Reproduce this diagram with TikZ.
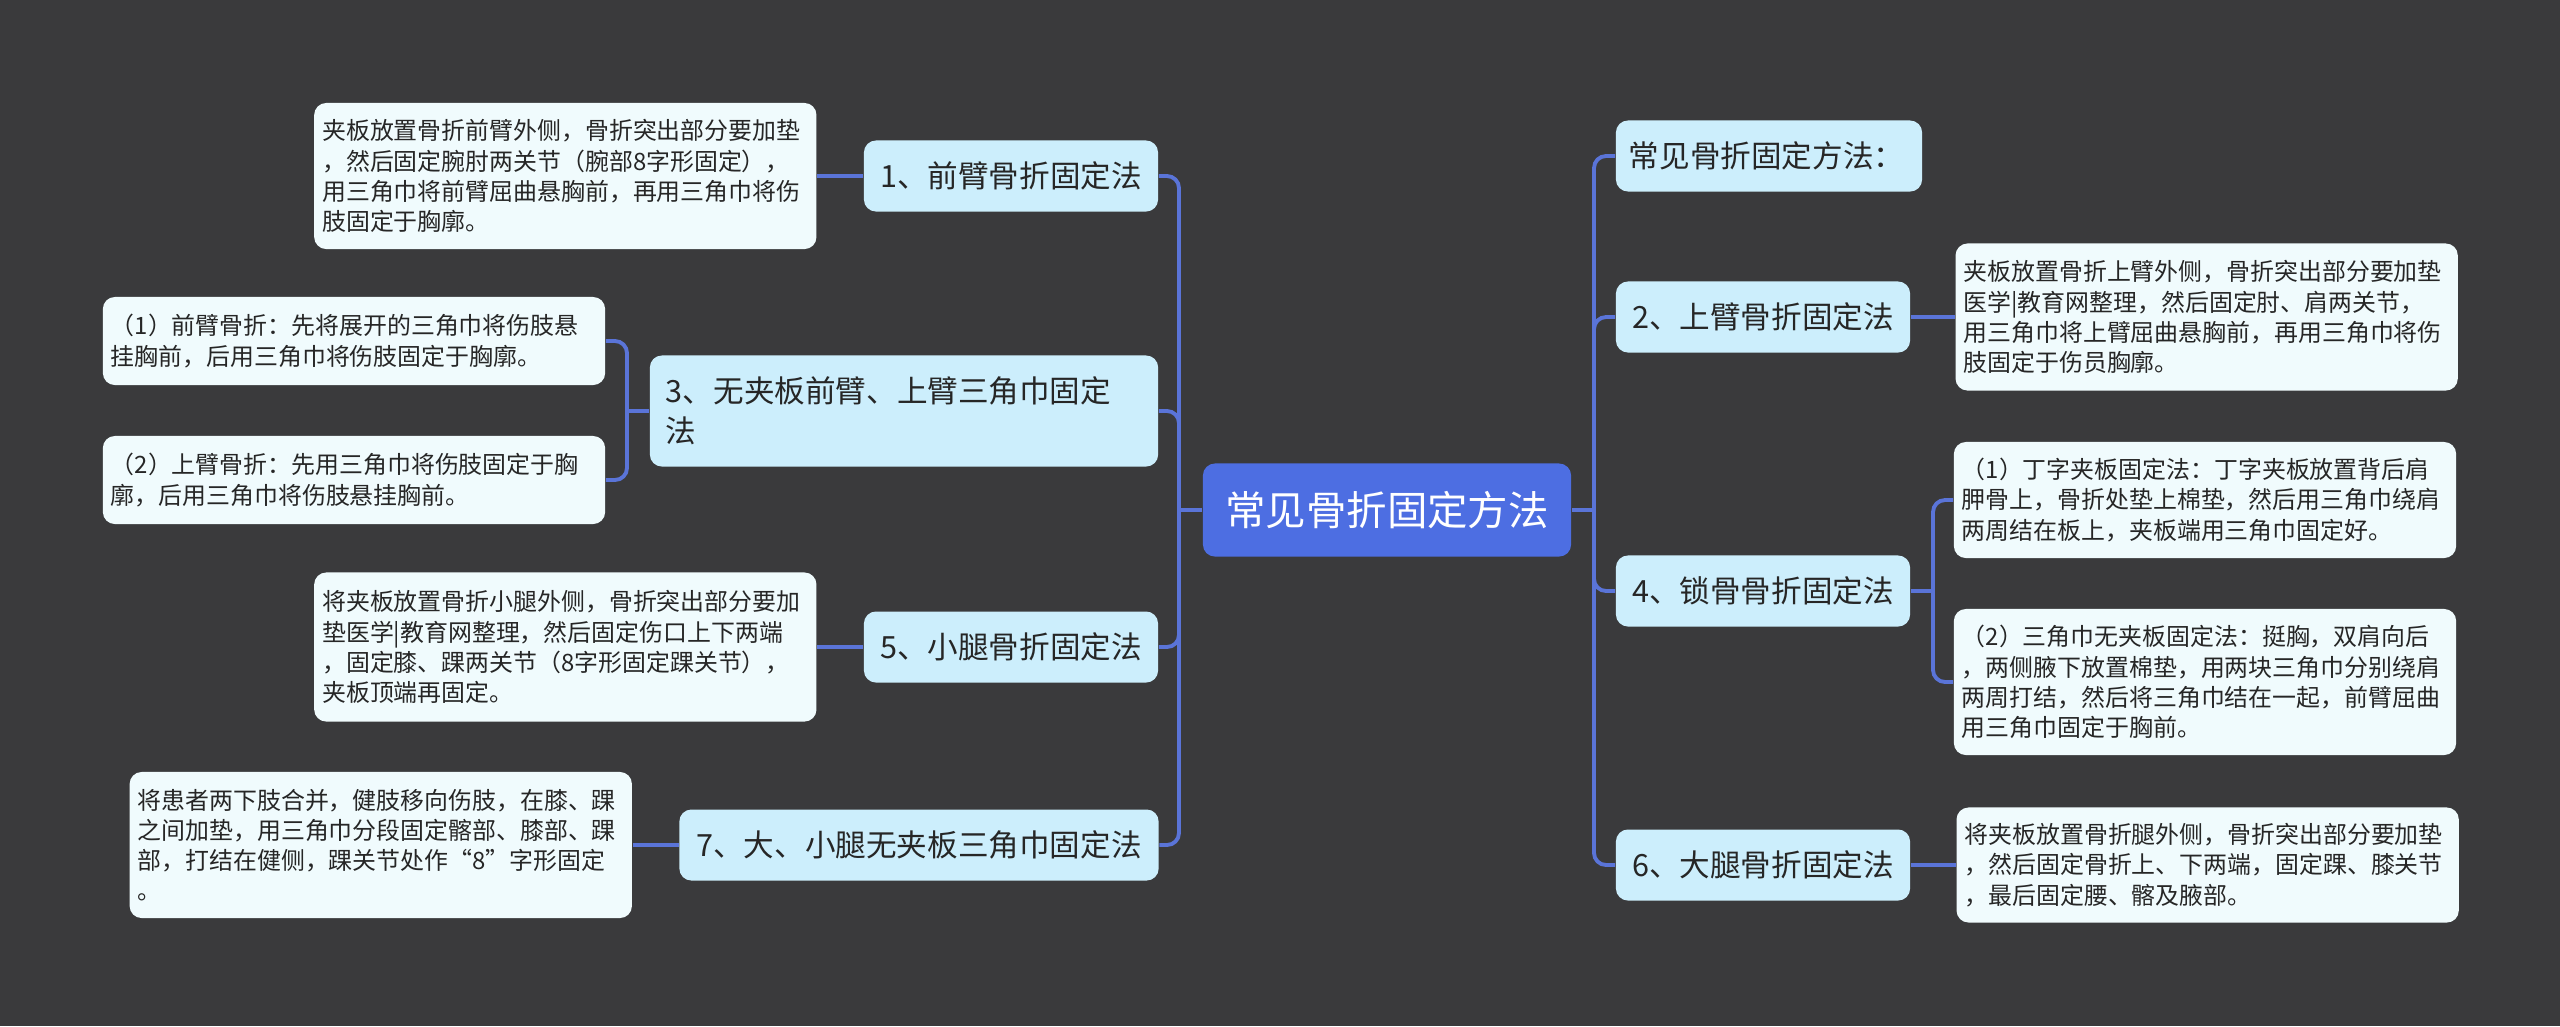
\documentclass[tikz,border=0pt]{standalone}
\usepackage{fontspec}
\setmainfont{Noto Sans CJK SC}
\usepackage{tikz}
\usetikzlibrary{positioning}
\definecolor{bgcolor}{RGB}{58,58,60}
\definecolor{rootblue}{RGB}{77,110,226}
\definecolor{topicblue}{RGB}{204,238,252}
\definecolor{leafcolor}{RGB}{240,251,253}
\definecolor{linkblue}{RGB}{90,116,216}
\definecolor{inkgray}{RGB}{38,38,38}

\begin{document}
\begin{tikzpicture}[
    x=0.01cm, y=-0.01cm,
    root/.style={fill=rootblue, text=white, rounded corners=1.2mm, inner sep=0pt, font=\fontsize{11.5}{13}\selectfont, minimum width=36.8mm, minimum height=9.3mm},
    topic/.style={fill=topicblue, text=inkgray, rounded corners=1.2mm, inner sep=0pt, font=\fontsize{8.7}{11.4}\selectfont, minimum width=29.4mm, minimum height=7.1mm},
    leaf/.style={fill=leafcolor, text=inkgray, rounded corners=1.2mm, inner xsep=0.8mm, inner ysep=0pt, font=\fontsize{6.8}{8.6}\selectfont, text width=48.6mm, align=left},
    link/.style={draw=linkblue, line width=1.1pt, rounded corners=1.2mm},
]
    % background and page size
    \fill[bgcolor] (0,0) rectangle (2560,1026);
    \useasboundingbox (0,0) rectangle (2560,1026);

    \node[root] (root) at (1387,510) {常见骨折固定方法};

    % left side
    \node[topic] (l1) at (1011,176) {1、前臂骨折固定法};
    \node[topic, minimum width=50.8mm, minimum height=11.1mm, text width=47.6mm, align=left] (l3) at (904,411) {3、无夹板前臂、上臂三角巾固定\\法};
    \node[topic] (l5) at (1011,647) {5、小腿骨折固定法};
    \node[topic, minimum width=47.9mm] (l7) at (919,845) {7、大、小腿无夹板三角巾固定法};

    \node[leaf, minimum height=14.6mm, left=4.6mm of l1] (l1d) {夹板放置骨折前臂外侧，骨折突出部分要加垫\\，然后固定腕肘两关节（腕部8字形固定），\\用三角巾将前臂屈曲悬胸前，再用三角巾将伤\\肢固定于胸廓。};
    \node[leaf, minimum height=8.8mm] (l3a) at (354,341) {（1）前臂骨折：先将展开的三角巾将伤肢悬\\挂胸前，后用三角巾将伤肢固定于胸廓。};
    \node[leaf, minimum height=8.8mm] (l3b) at (354,480) {（2）上臂骨折：先用三角巾将伤肢固定于胸\\廓，后用三角巾将伤肢悬挂胸前。};
    \node[leaf, minimum height=14.9mm, left=4.6mm of l5] (l5d) {将夹板放置骨折小腿外侧，骨折突出部分要加\\垫医学|教育网整理，然后固定伤口上下两端\\，固定膝、踝两关节（8字形固定踝关节），\\夹板顶端再固定。};
    \node[leaf, minimum height=14.6mm, left=4.6mm of l7] (l7d) {将患者两下肢合并，健肢移向伤肢，在膝、踝\\之间加垫，用三角巾分段固定髂部、膝部、踝\\部，打结在健侧，踝关节处作“8”字形固定\\。};

    % right side
    \node[topic, minimum width=30.6mm, text width=28mm, align=left] (r0) at (1769,156) {常见骨折固定方法：};
    \node[topic] (r2) at (1763,317) {2、上臂骨折固定法};
    \node[topic] (r4) at (1763,591) {4、锁骨骨折固定法};
    \node[topic] (r6) at (1763,865) {6、大腿骨折固定法};

    \node[leaf, minimum height=14.7mm, right=4.4mm of r2] (r2d) {夹板放置骨折上臂外侧，骨折突出部分要加垫\\医学|教育网整理，然后固定肘、肩两关节，\\用三角巾将上臂屈曲悬胸前，再用三角巾将伤\\肢固定于伤员胸廓。};
    \node[leaf, minimum height=11.6mm] (r4a) at (2205,500) {（1）丁字夹板固定法：丁字夹板放置背后肩\\胛骨上，骨折处垫上棉垫，然后用三角巾绕肩\\两周结在板上，夹板端用三角巾固定好。};
    \node[leaf, minimum height=14.6mm] (r4b) at (2205,682) {（2）三角巾无夹板固定法：挺胸，双肩向后\\，两侧腋下放置棉垫，用两块三角巾分别绕肩\\两周打结，然后将三角巾结在一起，前臂屈曲\\用三角巾固定于胸前。};
    \node[leaf, minimum height=11.5mm, right=4.5mm of r6] (r6d) {将夹板放置骨折腿外侧，骨折突出部分要加垫\\，然后固定骨折上、下两端，固定踝、膝关节\\，最后固定腰、髂及腋部。};

    % connectors
    \coordinate (lhub) at (1179,510);
    \coordinate (rhub) at (1594,510);
    \coordinate (l3hub) at (627,411);
    \coordinate (r4hub) at (1933,591);

    \draw[link] (root.west) -- (lhub);
    \draw[link] (root.east) -- (rhub);
    \foreach \t in {l1,l3,l5,l7}
        \draw[link] (lhub) |- (\t.east);
    \foreach \t in {r0,r2,r4,r6}
        \draw[link] (rhub) |- (\t.west);

    \draw[link] (l1.west) -- (l1d.east);
    \draw[link] (l5.west) -- (l5d.east);
    \draw[link] (l7.west) -- (l7d.east);
    \draw[link] (l3.west) -- (l3hub);
    \draw[link] (l3hub) |- (l3a.east);
    \draw[link] (l3hub) |- (l3b.east);

    \draw[link] (r2.east) -- (r2d.west);
    \draw[link] (r6.east) -- (r6d.west);
    \draw[link] (r4.east) -- (r4hub);
    \draw[link] (r4hub) |- (r4a.west);
    \draw[link] (r4hub) |- (r4b.west);
\end{tikzpicture}
\end{document}
